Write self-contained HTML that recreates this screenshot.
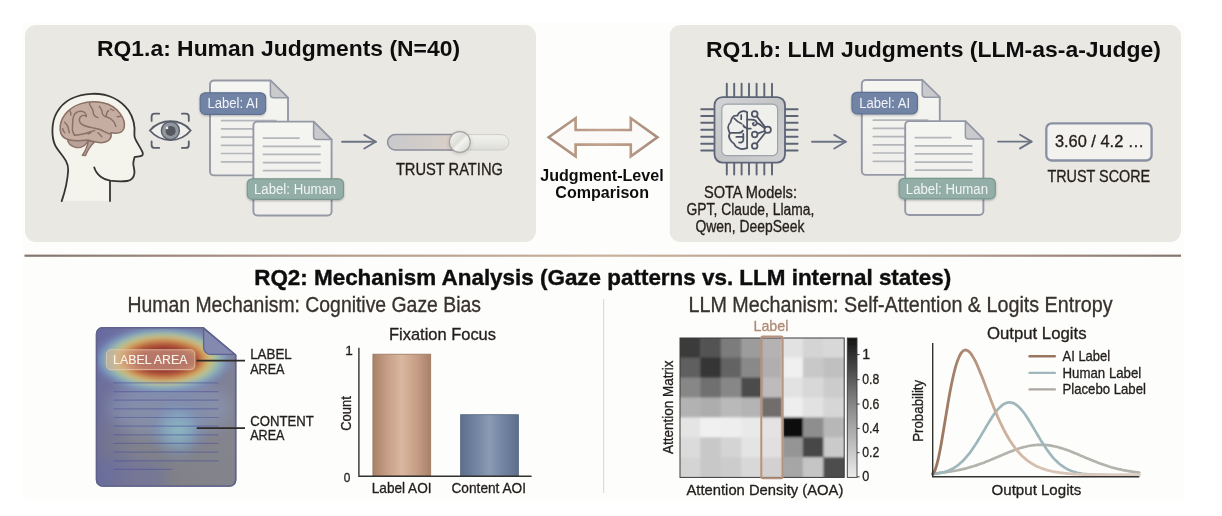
<!DOCTYPE html>
<html><head><meta charset="utf-8"><title>Figure</title>
<style>
html,body{margin:0;padding:0;background:#ffffff;}
body{width:1222px;height:516px;overflow:hidden;font-family:"Liberation Sans", sans-serif;}
svg{display:block;font-family:"Liberation Sans", sans-serif;}
</style></head><body>
<svg width="1222" height="516" viewBox="0 0 1222 516">
<defs>
<linearGradient id="gRule" x1="0" x2="1" y1="0" y2="0">
  <stop offset="0" stop-color="#85756f"/><stop offset="0.25" stop-color="#b49a8b"/>
  <stop offset="0.5" stop-color="#cbb09f"/><stop offset="0.8" stop-color="#b49a8b"/><stop offset="1" stop-color="#85756f"/>
</linearGradient>
<linearGradient id="gArrow" x1="0" x2="1" y1="0" y2="0">
  <stop offset="0" stop-color="#a98c7a"/><stop offset="0.5" stop-color="#c3a48f"/><stop offset="1" stop-color="#a98c7a"/>
</linearGradient>
<linearGradient id="gDoc" x1="0" x2="0" y1="0" y2="1">
  <stop offset="0" stop-color="#f5f5f1"/><stop offset="1" stop-color="#efeeea"/>
</linearGradient>
<linearGradient id="gTrackL" x1="0" x2="1" y1="0" y2="0">
  <stop offset="0" stop-color="#c9c9cb"/><stop offset="0.6" stop-color="#d3cdc9"/><stop offset="1" stop-color="#e0d0c8"/>
</linearGradient>
<linearGradient id="gTrackR" x1="0" x2="0" y1="0" y2="1">
  <stop offset="0" stop-color="#f1f1ed"/><stop offset="0.5" stop-color="#e8e8e4"/><stop offset="1" stop-color="#dcdcd8"/>
</linearGradient>
<linearGradient id="gKnob" x1="0" x2="1" y1="0" y2="1">
  <stop offset="0" stop-color="#fafaf8"/><stop offset="0.45" stop-color="#dcdcd9"/><stop offset="0.55" stop-color="#f3f3f0"/><stop offset="1" stop-color="#cfcfcc"/>
</linearGradient>
<linearGradient id="gChip" x1="0" x2="1" y1="0" y2="1">
  <stop offset="0" stop-color="#d4d5d6"/><stop offset="0.5" stop-color="#c2c4c6"/><stop offset="1" stop-color="#d0d1d2"/>
</linearGradient>
<linearGradient id="gBar1" x1="0" x2="1" y1="0" y2="0">
  <stop offset="0" stop-color="#a98168"/><stop offset="0.25" stop-color="#c79f86"/><stop offset="0.5" stop-color="#d9b7a0"/><stop offset="0.75" stop-color="#c79f86"/><stop offset="1" stop-color="#a98168"/>
</linearGradient>
<linearGradient id="gBar2" x1="0" x2="1" y1="0" y2="0">
  <stop offset="0" stop-color="#5d6f8c"/><stop offset="0.3" stop-color="#7587a3"/><stop offset="0.5" stop-color="#8b9bb4"/><stop offset="0.7" stop-color="#7587a3"/><stop offset="1" stop-color="#5d6f8c"/>
</linearGradient>
<linearGradient id="gCbar" x1="0" x2="0" y1="0" y2="1">
  <stop offset="0" stop-color="#141414"/><stop offset="0.5" stop-color="#8c8c8c"/><stop offset="1" stop-color="#ececec"/>
</linearGradient>
<linearGradient id="gAI" x1="0" x2="1" y1="0" y2="0">
  <stop offset="0" stop-color="#97725d"/><stop offset="0.15" stop-color="#ab8670"/><stop offset="0.32" stop-color="#cbae9a"/><stop offset="0.55" stop-color="#d9c4b5"/><stop offset="1" stop-color="#decfc3"/>
</linearGradient>
<radialGradient id="gHot" cx="0.5" cy="0.5" r="0.5">
  <stop offset="0" stop-color="#933430"/><stop offset="0.34" stop-color="#a03d34"/>
  <stop offset="0.52" stop-color="#c77b49"/><stop offset="0.63" stop-color="#d2ba74"/>
  <stop offset="0.73" stop-color="#a5c6a6" stop-opacity="0.92"/><stop offset="0.83" stop-color="#86afc8" stop-opacity="0.72"/>
  <stop offset="0.92" stop-color="#7a93c4" stop-opacity="0.38"/>
  <stop offset="1" stop-color="#6f80c0" stop-opacity="0"/>
</radialGradient>
<linearGradient id="gDocBase" x1="0" x2="0" y1="0" y2="1">
  <stop offset="0" stop-color="#7174a1"/><stop offset="0.4" stop-color="#7b7d9b"/><stop offset="0.75" stop-color="#83838b"/><stop offset="1" stop-color="#818187"/>
</linearGradient>
<linearGradient id="gDocRight" x1="0" x2="1" y1="0" y2="0">
  <stop offset="0" stop-color="#85858f" stop-opacity="0"/><stop offset="1" stop-color="#85858f" stop-opacity="0.7"/>
</linearGradient>
<linearGradient id="gDocLeft" x1="0" x2="1" y1="0" y2="0">
  <stop offset="0" stop-color="#5c5e9c" stop-opacity="0.5"/><stop offset="1" stop-color="#5a5ca2" stop-opacity="0"/>
</linearGradient>
<filter id="blur3" x="-30%" y="-60%" width="160%" height="220%"><feGaussianBlur stdDeviation="3"/></filter>
<filter id="blur4" x="-40%" y="-60%" width="180%" height="220%"><feGaussianBlur stdDeviation="7"/></filter>
<radialGradient id="gCool" cx="0.5" cy="0.5" r="0.5">
  <stop offset="0" stop-color="#8cc2c8" stop-opacity="0.8"/><stop offset="0.45" stop-color="#84b2cc" stop-opacity="0.58"/>
  <stop offset="1" stop-color="#6f86c0" stop-opacity="0"/>
</radialGradient>
<filter id="pageSoft" x="0" y="0" width="1222" height="516" filterUnits="userSpaceOnUse"><feGaussianBlur stdDeviation="0.45"/></filter>
<filter id="soft" x="-5%" y="-5%" width="110%" height="110%"><feGaussianBlur stdDeviation="1.1"/></filter>
<filter id="blur2" x="-20%" y="-20%" width="140%" height="140%"><feGaussianBlur stdDeviation="2.2"/></filter>
<filter id="badgeShadow" x="-10%" y="-20%" width="120%" height="150%">
  <feGaussianBlur in="SourceAlpha" stdDeviation="1.2"/><feOffset dy="1"/><feComponentTransfer><feFuncA type="linear" slope="0.28"/></feComponentTransfer>
  <feMerge><feMergeNode/><feMergeNode in="SourceGraphic"/></feMerge>
</filter>
<clipPath id="clipHeatDoc"><path d="M102.6,327.7 H203 L235.6,355 V480 a6,6 0 0 1 -6,6 H102.6 a6,6 0 0 1 -6,-6 V333.7 a6,6 0 0 1 6,-6 Z"/></clipPath>
</defs>
<g filter="url(#pageSoft)">
<rect x="0" y="0" width="1222" height="516" fill="#ffffff"/>
<rect x="22.5" y="22.5" width="1161.5" height="477" fill="#fdfdfc"/>
<rect x="25" y="25" width="511" height="217" rx="11" fill="#eae8e3"/>
<rect x="669.5" y="25" width="511.5" height="217" rx="11" fill="#eae8e3"/>
<rect x="24.5" y="254.6" width="1156.5" height="2.2" fill="url(#gRule)"/>
<text x="97.0" y="56.1" font-size="22" font-weight="bold" fill="#111111" text-anchor="start" textLength="363.0" lengthAdjust="spacingAndGlyphs" >RQ1.a: Human Judgments (N=40)</text>
<text x="706.0" y="56.6" font-size="22" font-weight="bold" fill="#111111" text-anchor="start" textLength="455.0" lengthAdjust="spacingAndGlyphs" >RQ1.b: LLM Judgments (LLM-as-a-Judge)</text>
<g id="head">
<path d="M61.7,201.1 C64.5,193 67.5,183 68.2,170 C68.5,160 60,154 55.5,146 C51,137 51.5,122 56.6,112.9 C63,101 76,94.3 92,93.8 C108,93.3 121,100 128.6,110.6 C133.5,118 135.2,127 134.4,134.9 C134.3,137 135,138.5 135.6,139.6 C137.5,143.5 141,148.5 142.6,152.4 C143.3,154.5 142.5,155.8 140.5,156.2 C138.5,156.6 136,156.6 134.6,157 C134,159.5 133.2,161.5 133.3,164 C133.5,167 134.8,170 134.4,173.3 C133.8,177.5 131.5,180.3 127,181 C121,181.8 115,181.3 110,180.7 L110,201.1 Z" fill="#f4f3ec" stroke="none"/>
<path d="M61.7,201.1 C64.5,193 67.5,183 68.2,170 C68.5,160 60,154 55.5,146 C51,137 51.5,122 56.6,112.9 C63,101 76,94.3 92,93.8 C108,93.3 121,100 128.6,110.6 C133.5,118 135.2,127 134.4,134.9 C134.3,137 135,138.5 135.6,139.6 C137.5,143.5 141,148.5 142.6,152.4 C143.3,154.5 142.5,155.8 140.5,156.2 C138.5,156.6 136,156.6 134.6,157 C134,159.5 133.2,161.5 133.3,164 C133.5,167 134.8,170 134.4,173.3 C133.8,177.5 131.5,180.3 127,181 C121,181.8 115,181.3 110,180.7 C104,179.6 96.5,175.5 94.2,167.3" fill="none" stroke="#363432" stroke-width="1.8" stroke-linecap="round" stroke-linejoin="round"/>
<path d="M110,180.7 L110,201.1" fill="none" stroke="#363432" stroke-width="1.8" stroke-linecap="round"/>
<!-- brain -->
<path d="M88.3,140.6 C87.6,146 85,151.5 82.3,155.4 L85.6,155.5 C87.4,150.5 90.5,146 94.4,142 Z" fill="#b59e95" stroke="#8a6f65" stroke-width="1.3" stroke-linejoin="round"/>
<path d="M67.2,138.6 C67.8,143 71,146.3 75.5,147.3 C80,148.2 84,146.6 86.4,143.4 C87.6,141.8 88.2,140.4 88.4,139.3 Z" fill="#b8a198" stroke="#8a6f65" stroke-width="1.3" stroke-linejoin="round"/>
<path d="M60.2,130.1 C59.8,124.5 61.5,119 65,114.5 C69,109 74.5,105.6 81,103.6 C87.5,101.6 96,101.3 103,102.8 C110.5,104.4 116.5,108.5 120.2,113.6 C123.5,118.2 125.2,123.4 124.2,127.6 C123.2,131.4 119.6,133.3 115.6,133.3 C113.6,133.3 112,133 110.9,132.8 C111.6,136 110.6,139.4 107.4,141.2 C103.6,143.3 98,142.8 93.4,141.6 C91.4,141.1 89.4,140.5 87.8,139.9 C82,140.8 75,141 69.6,140 C64.6,139 60.6,135.6 60.2,130.1 Z" fill="#c6ada1" stroke="#8a6f65" stroke-width="1.5" stroke-linejoin="round"/>
<g fill="none" stroke="#8a6f65" stroke-width="1.45" stroke-linecap="round" stroke-linejoin="round">
<path d="M74.6,135.2 C72.6,132.6 72.2,129 72.5,126 C72.8,122 72.6,119 73.6,116.2 C74.8,113 77.6,111.4 80.6,111.3 C84,111.2 86.6,113.4 86.3,116.4"/>
<path d="M86.3,116.4 C84.8,115.2 82.2,115.2 80.8,116.6 C78.8,118.6 78.8,121.6 81,123.6 C83.8,126 88,126.8 91.6,127.6 C95,128.4 98,128.8 100.6,129.8 C104.2,131.2 106.8,133.4 110.6,134"/>
<path d="M74.6,135.2 C78,135.2 81.4,134.6 84.4,133.8 C88.4,132.8 91.4,131.4 94.6,130.6"/>
<path d="M89.4,102.6 C89.2,105.6 91.8,107.4 92.6,109.6 C93.6,112 92.8,113.8 94.4,115.4 C95.4,116.4 96.8,117.2 98,117.6"/>
<path d="M99.3,106.4 C100.4,108 102,109.6 102,111.6 C102,113.4 102.4,114.6 103.8,115.6 C106,117 108.8,117.4 111,119 C113.4,120.8 115.2,123.4 115.8,126.4"/>
<path d="M110.6,109 C111.6,109.6 112.6,110.2 113.6,110.4"/>
<path d="M117.2,116.6 C118.6,116.8 120,116.4 121.2,115.8"/>
<path d="M106.4,116.6 C106,113.6 107.2,111.6 108.6,110.6"/>
<path d="M64.6,122.2 C66.4,123.8 67.8,125.6 68.2,127.8 C68.6,129.6 68.8,131.2 69.4,132.8"/>
<path d="M62.6,128.8 C63,130.4 63.8,131.8 64.8,132.8"/>
<path d="M88,134 C89,133.4 90,133 90.8,132.7"/>
<path d="M97.9,132.8 C99.4,134 100.8,135.4 101.8,136.8"/>
<path d="M69.8,110.6 C70.6,112 71,113.4 70.8,115"/>
</g>
</g>
<g id="eye" fill="none" stroke="#595e6b" stroke-width="1.8" stroke-linecap="round">
<path d="M151.6,120.9 V116.7 a3,3 0 0 1 3,-3 H159.2"/>
<path d="M181.9,113.7 H185.8 a3,3 0 0 1 3,3 V120.9"/>
<path d="M151.6,141.3 V144.9 a3,3 0 0 0 3,3 H159.2"/>
<path d="M181.9,147.9 H185.8 a3,3 0 0 0 3,-3 V141.3"/>
<path d="M149.9,130.5 C156,123.5 163,121.3 170.4,121.3 C178,121.3 185,123.5 190.6,130.5 C185,137.5 178,140.1 170.4,140.1 C163,140.1 156,137.5 149.9,130.5 Z" fill="#efefec" stroke-width="1.9"/>
<circle cx="170.4" cy="130.7" r="9" fill="#92969d" stroke-width="1.4"/>
<circle cx="170.6" cy="130.9" r="5" fill="#55585f" stroke="none"/>
<circle cx="167" cy="127.9" r="1.3" fill="#e8e8ea" stroke="none"/>
</g>
<g transform="translate(0,0)"><path d="M214,80.5 H270.4 L288,97.8 V171.4 a4,4 0 0 1 -4,4 H214 a4,4 0 0 1 -4,-4 V84.5 a4,4 0 0 1 4,-4 Z" fill="url(#gDoc)" stroke="#9599a6" stroke-width="1.9" stroke-linejoin="round"/>
<path d="M270.4,80.5 V94.8 a3,3 0 0 0 3,3 H288 Z" fill="#c9cacc" stroke="#9599a6" stroke-width="1.5" stroke-linejoin="round"/>
<g stroke="#b3b6bb" stroke-width="1.7" stroke-linecap="round">
<path d="M221.5,120.7 H276"/><path d="M221.5,128.8 H276"/><path d="M221.5,137.1 H276"/><path d="M221.5,145.3 H276"/><path d="M221.5,153.5 H276"/><path d="M221.5,161.8 H276"/>
</g><path d="M257.4,121.6 H313.6 L331.6,139.6 V211.5 a4,4 0 0 1 -4,4 H257.4 a4,4 0 0 1 -4,-4 V125.6 a4,4 0 0 1 4,-4 Z" fill="url(#gDoc)" stroke="#9599a6" stroke-width="1.9" stroke-linejoin="round"/>
<path d="M313.6,121.6 V136.6 a3,3 0 0 0 3,3 H331.6 Z" fill="#c9cacc" stroke="#9599a6" stroke-width="1.5" stroke-linejoin="round"/>
<g stroke="#b3b6bb" stroke-width="1.7" stroke-linecap="round">
<path d="M263.5,138.1 H299"/><path d="M263.5,146.3 H320"/><path d="M263.5,154.4 H320"/><path d="M263.5,162.6 H320"/><path d="M263.5,170.7 H320"/>
</g><rect x="200.2" y="92.8" width="65.4" height="21.5" rx="5" fill="#7284a5" stroke="#5f7093" stroke-width="1.2" filter="url(#badgeShadow)"/><text x="207.4" y="108.4" font-size="13.8" font-weight="normal" fill="#f1f3f7" text-anchor="start" textLength="51.0" lengthAdjust="spacingAndGlyphs" >Label: AI</text><rect x="247.3" y="178.8" width="96.2" height="20.6" rx="5" fill="#93aea6" stroke="#7a988f" stroke-width="1.2" filter="url(#badgeShadow)"/><text x="254.0" y="194.0" font-size="13.8" font-weight="normal" fill="#f1f5f3" text-anchor="start" textLength="82.2" lengthAdjust="spacingAndGlyphs" >Label: Human</text></g>
<g transform="translate(651.8,-0.5)"><path d="M214,80.5 H270.4 L288,97.8 V171.4 a4,4 0 0 1 -4,4 H214 a4,4 0 0 1 -4,-4 V84.5 a4,4 0 0 1 4,-4 Z" fill="url(#gDoc)" stroke="#9599a6" stroke-width="1.9" stroke-linejoin="round"/>
<path d="M270.4,80.5 V94.8 a3,3 0 0 0 3,3 H288 Z" fill="#c9cacc" stroke="#9599a6" stroke-width="1.5" stroke-linejoin="round"/>
<g stroke="#b3b6bb" stroke-width="1.7" stroke-linecap="round">
<path d="M221.5,120.7 H276"/><path d="M221.5,128.8 H276"/><path d="M221.5,137.1 H276"/><path d="M221.5,145.3 H276"/><path d="M221.5,153.5 H276"/><path d="M221.5,161.8 H276"/>
</g><path d="M257.4,121.6 H313.6 L331.6,139.6 V211.5 a4,4 0 0 1 -4,4 H257.4 a4,4 0 0 1 -4,-4 V125.6 a4,4 0 0 1 4,-4 Z" fill="url(#gDoc)" stroke="#9599a6" stroke-width="1.9" stroke-linejoin="round"/>
<path d="M313.6,121.6 V136.6 a3,3 0 0 0 3,3 H331.6 Z" fill="#c9cacc" stroke="#9599a6" stroke-width="1.5" stroke-linejoin="round"/>
<g stroke="#b3b6bb" stroke-width="1.7" stroke-linecap="round">
<path d="M263.5,138.1 H299"/><path d="M263.5,146.3 H320"/><path d="M263.5,154.4 H320"/><path d="M263.5,162.6 H320"/><path d="M263.5,170.7 H320"/>
</g><rect x="200.2" y="92.8" width="65.4" height="21.5" rx="5" fill="#7284a5" stroke="#5f7093" stroke-width="1.2" filter="url(#badgeShadow)"/><text x="207.4" y="108.4" font-size="13.8" font-weight="normal" fill="#f1f3f7" text-anchor="start" textLength="51.0" lengthAdjust="spacingAndGlyphs" >Label: AI</text><rect x="247.3" y="178.8" width="96.2" height="20.6" rx="5" fill="#93aea6" stroke="#7a988f" stroke-width="1.2" filter="url(#badgeShadow)"/><text x="254.0" y="194.0" font-size="13.8" font-weight="normal" fill="#f1f5f3" text-anchor="start" textLength="82.2" lengthAdjust="spacingAndGlyphs" >Label: Human</text></g>
<g fill="none" stroke="#6c7385" stroke-width="1.9" stroke-linecap="round" stroke-linejoin="round"><path d="M342,141.7 H375.8"/><path d="M364.3,134.89999999999998 L375.8,141.7 L364.3,148.5"/></g>
<g fill="none" stroke="#6c7385" stroke-width="1.9" stroke-linecap="round" stroke-linejoin="round"><path d="M812,141.7 H845.8"/><path d="M834.3,134.89999999999998 L845.8,141.7 L834.3,148.5"/></g>
<g fill="none" stroke="#6c7385" stroke-width="1.9" stroke-linecap="round" stroke-linejoin="round"><path d="M998,141.6 H1031.6"/><path d="M1020.0999999999999,134.79999999999998 L1031.6,141.6 L1020.0999999999999,148.4"/></g>
<g id="slider">
<rect x="387.6" y="134.6" width="121.2" height="15.4" rx="7.7" fill="url(#gTrackR)" stroke="#cbcbc7" stroke-width="0.9"/>
<path d="M459.5,134.6 H395.3 a7.7,7.7 0 0 0 0,15.4 H459.5 Z" fill="url(#gTrackL)" stroke="#8c8f9d" stroke-width="1.5"/>
<circle cx="459.8" cy="143" r="10.8" fill="#000" opacity="0.16" filter="url(#blur2)"/>
<circle cx="459.8" cy="142" r="10.4" fill="url(#gKnob)" stroke="#a3a39f" stroke-width="1.1"/>
</g>
<text x="395.9" y="174.6" font-size="16.2" font-weight="normal" fill="#231f1c" stroke="#231f1c" stroke-width="0.32" text-anchor="start" textLength="107.0" lengthAdjust="spacingAndGlyphs" >TRUST RATING</text>
<rect x="536" y="22" width="133.5" height="225" fill="#fdfdfc"/>
<path d="M548.6,137.3 L575.6,118.2 V130 H630.8 V118.2 L657.4,137.3 L630.8,156.4 V144.6 H575.6 V156.4 Z" fill="#fbfaf8" stroke="url(#gArrow)" stroke-width="2.6" stroke-linejoin="miter"/>
<text x="540.2" y="181.2" font-size="16.2" font-weight="bold" fill="#111111" text-anchor="start" textLength="123.5" lengthAdjust="spacingAndGlyphs" >Judgment-Level</text>
<text x="555.3" y="197.8" font-size="16.2" font-weight="bold" fill="#111111" text-anchor="start" textLength="93.7" lengthAdjust="spacingAndGlyphs" >Comparison</text>
<g id="chip"><g stroke="#5d6577" stroke-width="1.9" stroke-linecap="round"><path d="M726.8,83.8 V97"/><path d="M726.8,162.6 V174.6"/><path d="M734.2,83.8 V97"/><path d="M734.2,162.6 V174.6"/><path d="M741.6,83.8 V97"/><path d="M741.6,162.6 V174.6"/><path d="M749.0,83.8 V97"/><path d="M749.0,162.6 V174.6"/><path d="M756.6,83.8 V97"/><path d="M756.6,162.6 V174.6"/><path d="M764.3,83.8 V97"/><path d="M764.3,162.6 V174.6"/><path d="M772.0,83.8 V97"/><path d="M772.0,162.6 V174.6"/><path d="M701.2,109.2 H714.5"/><path d="M785,109.2 H797.6"/><path d="M701.2,116.0 H714.5"/><path d="M785,116.0 H797.6"/><path d="M701.2,122.8 H714.5"/><path d="M785,122.8 H797.6"/><path d="M701.2,129.8 H714.5"/><path d="M785,129.8 H797.6"/><path d="M701.2,136.8 H714.5"/><path d="M785,136.8 H797.6"/><path d="M701.2,143.8 H714.5"/><path d="M785,143.8 H797.6"/><path d="M701.2,150.5 H714.5"/><path d="M785,150.5 H797.6"/></g><rect x="714.5" y="97.1" width="70.5" height="65.5" rx="8" fill="url(#gChip)" stroke="#5d6577" stroke-width="1.8"/><rect x="721.8" y="104.2" width="55.8" height="51.4" rx="5" fill="#efefeb" stroke="#9ea3ab" stroke-width="1.2"/><g fill="none" stroke="#4f5666" stroke-width="1.75" stroke-linecap="round" stroke-linejoin="round">
<path d="M747.1,112.3 C745,111 742.5,111 740.6,111.9 C738.6,112.9 737.8,114.4 737.4,115.6 C735.4,115.4 733.2,116 732.4,117.4 C731.2,119 731,121 730.4,122.6 C728.8,123.8 728,125.6 728.1,127.5 C728.2,129.6 729.2,131.2 729.8,133.5 C728.8,135.2 728.8,137.4 729.8,138.9 C730.8,141 732.2,142.8 734.1,143.8 C735,146.2 737,147.8 739,148.2 C741,149.2 743.4,149.2 745,148.7 L747.1,148.1"/>
<path d="M747.1,112.3 V148.1"/>
<path d="M734.1,118.3 C736,120.6 738.6,122.6 741.7,123.7"/>
<path d="M741.2,115 V119.2"/>
<path d="M730.8,132.9 H738 C740.4,132.9 742.2,132.2 742.8,130.6"/>
<path d="M736.3,136.9 H743.3"/>
<path d="M743.3,133.8 V140.2 C743.3,142 741,142.8 739,142.5"/>
<path d="M747.1,127.8 C745,127.8 743.5,126.8 743.3,125.2"/>
<path d="M756.7,116.1 L765.3,127.2"/>
<path d="M747.1,119.6 H751.6 C754.6,119.6 756.5,121 756.7,122.9 C756.9,124.9 755,125.9 753.6,125.2 C752.4,124.6 752.6,123 753.8,122.8"/>
<path d="M756.7,122.9 C759,123.6 762.6,126.4 764.8,128.3"/>
<path d="M747.1,128.6 H750.8"/>
<path d="M757.4,133.6 L764.7,131"/>
<path d="M756.5,143.7 L765.7,132.3"/>
<circle cx="754.7" cy="113.9" r="2.9" fill="#efefeb"/>
<circle cx="754.7" cy="134.5" r="2.8" fill="#efefeb"/>
<circle cx="754.7" cy="145.9" r="2.8" fill="#efefeb"/>
<circle cx="767.7" cy="129.7" r="3.2" fill="#efefeb"/>
</g></g>
<text x="703.9" y="198.0" font-size="15.8" font-weight="normal" fill="#231f1c" stroke="#231f1c" stroke-width="0.32" text-anchor="start" textLength="93.1" lengthAdjust="spacingAndGlyphs" >SOTA Models:</text>
<text x="686.6" y="214.8" font-size="15.8" font-weight="normal" fill="#231f1c" stroke="#231f1c" stroke-width="0.32" text-anchor="start" textLength="127.7" lengthAdjust="spacingAndGlyphs" >GPT, Claude, Llama,</text>
<text x="695.5" y="231.9" font-size="15.8" font-weight="normal" fill="#231f1c" stroke="#231f1c" stroke-width="0.32" text-anchor="start" textLength="108.9" lengthAdjust="spacingAndGlyphs" >Qwen, DeepSeek</text>
<rect x="1046.3" y="123.3" width="105.3" height="37.2" rx="5.5" fill="#f3f2ee" stroke="#8b91a4" stroke-width="2.3"/>
<text x="1054.9" y="147.0" font-size="16.2" font-weight="normal" fill="#231f1c" stroke="#231f1c" stroke-width="0.32" text-anchor="start" textLength="89.3" lengthAdjust="spacingAndGlyphs" >3.60 / 4.2 …</text>
<text x="1047.4" y="181.9" font-size="16.2" font-weight="normal" fill="#231f1c" stroke="#231f1c" stroke-width="0.32" text-anchor="start" textLength="102.8" lengthAdjust="spacingAndGlyphs" >TRUST SCORE</text>
<text x="254.2" y="284.5" font-size="22" font-weight="bold" fill="#111111" text-anchor="start" textLength="697.0" lengthAdjust="spacingAndGlyphs" stroke="#111111" stroke-width="0.4">RQ2: Mechanism Analysis (Gaze patterns vs. LLM internal states)</text>
<text x="127.5" y="312.0" font-size="21.4" font-weight="normal" fill="#38332e" stroke="#38332e" stroke-width="0.32" text-anchor="start" textLength="353.5" lengthAdjust="spacingAndGlyphs" >Human Mechanism: Cognitive Gaze Bias</text>
<text x="688.5" y="312.2" font-size="21.4" font-weight="normal" fill="#38332e" stroke="#38332e" stroke-width="0.32" text-anchor="start" textLength="424.0" lengthAdjust="spacingAndGlyphs" >LLM Mechanism: Self-Attention &amp; Logits Entropy</text>
<rect x="603" y="299" width="1.2" height="194" fill="#dcdcda"/>
<g id="heatdoc"><path d="M102.6,327.7 H203 L235.6,355 V480 a6,6 0 0 1 -6,6 H102.6 a6,6 0 0 1 -6,-6 V333.7 a6,6 0 0 1 6,-6 Z" fill="#7679a0" stroke="#62648c" stroke-width="1.6" stroke-linejoin="round"/><g clip-path="url(#clipHeatDoc)"><rect x="96" y="327" width="143" height="160" fill="url(#gDocBase)"/><rect x="96" y="327" width="40" height="160" fill="url(#gDocLeft)"/><rect x="186" y="327" width="52" height="160" fill="url(#gDocRight)"/><ellipse cx="125" cy="478" rx="42" ry="22" fill="#6268aa" opacity="0.4" filter="url(#blur4)"/><ellipse cx="170" cy="408" rx="62" ry="30" fill="#90a2c4" opacity="0.42" filter="url(#blur4)"/><ellipse cx="163" cy="359.5" rx="73" ry="35" fill="url(#gHot)" filter="url(#blur2)"/><ellipse cx="165" cy="360" rx="32" ry="9.5" fill="#8c2f2d" opacity="0.95" filter="url(#blur3)"/><ellipse cx="178" cy="430" rx="30" ry="32" fill="url(#gCool)" filter="url(#blur2)"/><g stroke="#4e5398" stroke-width="1.2" stroke-linecap="round" opacity="0.52"><path d="M114,382.9 H218"/><path d="M114,391.6 H218"/><path d="M114,400.2 H218"/><path d="M114,408.8 H218"/><path d="M114,417.5 H218"/><path d="M114,426.1 H218"/><path d="M114,434.8 H218"/><path d="M114,443.4 H218"/><path d="M114,452.1 H218"/><path d="M114,460.8 H218"/><path d="M114,469.4 H172"/></g><path d="M203.6,328.2 V347.4 a7,7 0 0 0 7,7 H235.2 Z" fill="#8489b0" stroke="#5e618e" stroke-width="1.3" stroke-linejoin="round"/></g><path d="M102.6,327.7 H203 L235.6,355 V480 a6,6 0 0 1 -6,6 H102.6 a6,6 0 0 1 -6,-6 V333.7 a6,6 0 0 1 6,-6 Z" fill="none" stroke="#62648c" stroke-width="1.6" stroke-linejoin="round"/><rect x="106.5" y="349.8" width="88.4" height="19.8" rx="4.5" fill="#d9b295" fill-opacity="0.55" stroke="#e6c9ae" stroke-opacity="0.75" stroke-width="1.1"/><text x="113.1" y="363.9" font-size="13" font-weight="normal" fill="#f8f1e8" stroke="#f8f1e8" stroke-width="0.15" text-anchor="start" textLength="74.4" lengthAdjust="spacingAndGlyphs" >LABEL AREA</text><path d="M196.6,360.6 H245 M196.8,428.1 H245" stroke="#2e2b28" stroke-width="1.6" fill="none"/></g>
<text x="250.2" y="358.8" font-size="14.2" font-weight="normal" fill="#231f1c" stroke="#231f1c" stroke-width="0.32" text-anchor="start" textLength="41.6" lengthAdjust="spacingAndGlyphs" >LABEL</text>
<text x="250.2" y="373.6" font-size="14.2" font-weight="normal" fill="#231f1c" stroke="#231f1c" stroke-width="0.32" text-anchor="start" textLength="34.3" lengthAdjust="spacingAndGlyphs" >AREA</text>
<text x="250.2" y="425.6" font-size="14.2" font-weight="normal" fill="#231f1c" stroke="#231f1c" stroke-width="0.32" text-anchor="start" textLength="63.5" lengthAdjust="spacingAndGlyphs" >CONTENT</text>
<text x="250.2" y="440.4" font-size="14.2" font-weight="normal" fill="#231f1c" stroke="#231f1c" stroke-width="0.32" text-anchor="start" textLength="34.3" lengthAdjust="spacingAndGlyphs" >AREA</text>
<text x="389.0" y="339.5" font-size="16.2" font-weight="normal" fill="#231f1c" stroke="#231f1c" stroke-width="0.32" text-anchor="start" textLength="107.0" lengthAdjust="spacingAndGlyphs" >Fixation Focus</text>
<rect x="372.9" y="354.2" width="57.8" height="122" fill="url(#gBar1)" stroke="#9a755e" stroke-width="0.8"/>
<rect x="460.6" y="414.7" width="57.8" height="61.6" fill="url(#gBar2)" stroke="#55667f" stroke-width="0.8"/>
<path d="M358.9,347.8 V476.3 H531.6" fill="none" stroke="#33302d" stroke-width="1.4"/>
<text x="345.2" y="354.7" font-size="13.6" font-weight="normal" fill="#231f1c" stroke="#231f1c" stroke-width="0.32" text-anchor="start" >1</text>
<text x="343.8" y="481.5" font-size="13.6" font-weight="normal" fill="#231f1c" stroke="#231f1c" stroke-width="0.32" text-anchor="start" textLength="6.6" lengthAdjust="spacingAndGlyphs" >0</text>
<text transform="translate(345.6,413.5) rotate(-90)" x="-17.3" y="5.2" font-size="14.4" fill="#231f1c" stroke="#231f1c" stroke-width="0.32" textLength="34.6" lengthAdjust="spacingAndGlyphs">Count</text>
<text x="371.8" y="493.3" font-size="14.4" font-weight="normal" fill="#231f1c" stroke="#231f1c" stroke-width="0.32" text-anchor="start" textLength="59.7" lengthAdjust="spacingAndGlyphs" >Label AOI</text>
<text x="451.5" y="493.3" font-size="14.4" font-weight="normal" fill="#231f1c" stroke="#231f1c" stroke-width="0.32" text-anchor="start" textLength="74.5" lengthAdjust="spacingAndGlyphs" >Content AOI</text>
<clipPath id="clipM"><rect x="680.0" y="338.0" width="164.2" height="139.4"/></clipPath><g clip-path="url(#clipM)"><g filter="url(#soft)"><rect x="675.70" y="333.70" width="25.12" height="24.51" fill="rgb(58,58,58)"/><rect x="700.23" y="333.70" width="21.12" height="24.51" fill="rgb(82,82,82)"/><rect x="720.75" y="333.70" width="21.12" height="24.51" fill="rgb(123,123,123)"/><rect x="741.28" y="333.70" width="21.12" height="24.51" fill="rgb(156,156,156)"/><rect x="761.80" y="333.70" width="21.12" height="24.51" fill="rgb(180,180,180)"/><rect x="782.33" y="333.70" width="21.12" height="24.51" fill="rgb(226,226,226)"/><rect x="802.85" y="333.70" width="21.12" height="24.51" fill="rgb(212,212,212)"/><rect x="823.38" y="333.70" width="25.12" height="24.51" fill="rgb(216,216,216)"/><rect x="675.70" y="357.61" width="25.12" height="20.51" fill="rgb(94,94,94)"/><rect x="700.23" y="357.61" width="21.12" height="20.51" fill="rgb(53,53,53)"/><rect x="720.75" y="357.61" width="21.12" height="20.51" fill="rgb(99,99,99)"/><rect x="741.28" y="357.61" width="21.12" height="20.51" fill="rgb(137,137,137)"/><rect x="761.80" y="357.61" width="21.12" height="20.51" fill="rgb(176,176,176)"/><rect x="782.33" y="357.61" width="21.12" height="20.51" fill="rgb(240,240,240)"/><rect x="802.85" y="357.61" width="21.12" height="20.51" fill="rgb(200,200,200)"/><rect x="823.38" y="357.61" width="25.12" height="20.51" fill="rgb(192,192,192)"/><rect x="675.70" y="377.53" width="25.12" height="20.51" fill="rgb(135,135,135)"/><rect x="700.23" y="377.53" width="21.12" height="20.51" fill="rgb(111,111,111)"/><rect x="720.75" y="377.53" width="21.12" height="20.51" fill="rgb(135,135,135)"/><rect x="741.28" y="377.53" width="21.12" height="20.51" fill="rgb(75,75,75)"/><rect x="761.80" y="377.53" width="21.12" height="20.51" fill="rgb(190,190,190)"/><rect x="782.33" y="377.53" width="21.12" height="20.51" fill="rgb(226,226,226)"/><rect x="802.85" y="377.53" width="21.12" height="20.51" fill="rgb(216,216,216)"/><rect x="823.38" y="377.53" width="25.12" height="20.51" fill="rgb(204,204,204)"/><rect x="675.70" y="397.44" width="25.12" height="20.51" fill="rgb(178,178,178)"/><rect x="700.23" y="397.44" width="21.12" height="20.51" fill="rgb(173,173,173)"/><rect x="720.75" y="397.44" width="21.12" height="20.51" fill="rgb(185,185,185)"/><rect x="741.28" y="397.44" width="21.12" height="20.51" fill="rgb(180,180,180)"/><rect x="761.80" y="397.44" width="21.12" height="20.51" fill="rgb(106,106,106)"/><rect x="782.33" y="397.44" width="21.12" height="20.51" fill="rgb(238,238,238)"/><rect x="802.85" y="397.44" width="21.12" height="20.51" fill="rgb(226,226,226)"/><rect x="823.38" y="397.44" width="25.12" height="20.51" fill="rgb(214,214,214)"/><rect x="675.70" y="417.36" width="25.12" height="20.51" fill="rgb(228,228,228)"/><rect x="700.23" y="417.36" width="21.12" height="20.51" fill="rgb(240,240,240)"/><rect x="720.75" y="417.36" width="21.12" height="20.51" fill="rgb(238,238,238)"/><rect x="741.28" y="417.36" width="21.12" height="20.51" fill="rgb(233,233,233)"/><rect x="761.80" y="417.36" width="21.12" height="20.51" fill="rgb(231,231,231)"/><rect x="782.33" y="417.36" width="21.12" height="20.51" fill="rgb(17,17,17)"/><rect x="802.85" y="417.36" width="21.12" height="20.51" fill="rgb(142,142,142)"/><rect x="823.38" y="417.36" width="25.12" height="20.51" fill="rgb(183,183,183)"/><rect x="675.70" y="437.27" width="25.12" height="20.51" fill="rgb(219,219,219)"/><rect x="700.23" y="437.27" width="21.12" height="20.51" fill="rgb(200,200,200)"/><rect x="720.75" y="437.27" width="21.12" height="20.51" fill="rgb(212,212,212)"/><rect x="741.28" y="437.27" width="21.12" height="20.51" fill="rgb(228,228,228)"/><rect x="761.80" y="437.27" width="21.12" height="20.51" fill="rgb(228,228,228)"/><rect x="782.33" y="437.27" width="21.12" height="20.51" fill="rgb(149,149,149)"/><rect x="802.85" y="437.27" width="21.12" height="20.51" fill="rgb(70,70,70)"/><rect x="823.38" y="437.27" width="25.12" height="20.51" fill="rgb(202,202,202)"/><rect x="675.70" y="457.19" width="25.12" height="24.51" fill="rgb(212,212,212)"/><rect x="700.23" y="457.19" width="21.12" height="24.51" fill="rgb(200,200,200)"/><rect x="720.75" y="457.19" width="21.12" height="24.51" fill="rgb(204,204,204)"/><rect x="741.28" y="457.19" width="21.12" height="24.51" fill="rgb(216,216,216)"/><rect x="761.80" y="457.19" width="21.12" height="24.51" fill="rgb(212,212,212)"/><rect x="782.33" y="457.19" width="21.12" height="24.51" fill="rgb(166,166,166)"/><rect x="802.85" y="457.19" width="21.12" height="24.51" fill="rgb(197,197,197)"/><rect x="823.38" y="457.19" width="25.12" height="24.51" fill="rgb(77,77,77)"/></g></g><rect x="680.0" y="338.0" width="164.2" height="139.4" fill="none" stroke="#3a3a3a" stroke-width="1"/><rect x="761.3" y="336.6" width="21.3" height="141.6" rx="1.5" fill="#c9a48e" fill-opacity="0.06" stroke="#b8927d" stroke-width="2"/><rect x="847.3" y="338" width="9.7" height="139.4" fill="url(#gCbar)" stroke="#3a3a3a" stroke-width="0.9"/>
<text x="753.5" y="330.5" font-size="14.4" font-weight="normal" fill="#b08c78" stroke="#b08c78" stroke-width="0.32" text-anchor="start" textLength="34.9" lengthAdjust="spacingAndGlyphs" >Label</text>
<g stroke="#3a3a3a" stroke-width="1"><path d="M857,354.6 H859.6"/><path d="M857,379.7 H859.6"/><path d="M857,404.1 H859.6"/><path d="M857,428.4 H859.6"/><path d="M857,452.7 H859.6"/><path d="M857,476.8 H859.6"/></g>
<text x="862.2" y="359.0" font-size="14.2" font-weight="normal" fill="#231f1c" stroke="#231f1c" stroke-width="0.32" text-anchor="start" >1</text>
<text x="862.2" y="384.1" font-size="14.2" font-weight="normal" fill="#231f1c" stroke="#231f1c" stroke-width="0.32" text-anchor="start" textLength="17.0" lengthAdjust="spacingAndGlyphs" >0.8</text>
<text x="862.2" y="408.5" font-size="14.2" font-weight="normal" fill="#231f1c" stroke="#231f1c" stroke-width="0.32" text-anchor="start" textLength="17.0" lengthAdjust="spacingAndGlyphs" >0.6</text>
<text x="862.2" y="432.8" font-size="14.2" font-weight="normal" fill="#231f1c" stroke="#231f1c" stroke-width="0.32" text-anchor="start" textLength="17.0" lengthAdjust="spacingAndGlyphs" >0.4</text>
<text x="862.2" y="457.1" font-size="14.2" font-weight="normal" fill="#231f1c" stroke="#231f1c" stroke-width="0.32" text-anchor="start" textLength="17.0" lengthAdjust="spacingAndGlyphs" >0.2</text>
<text x="862.2" y="481.2" font-size="14.2" font-weight="normal" fill="#231f1c" stroke="#231f1c" stroke-width="0.32" text-anchor="start" textLength="7.0" lengthAdjust="spacingAndGlyphs" >0</text>
<text transform="translate(667.6,407.2) rotate(-90)" x="-46.9" y="5.3" font-size="14.6" fill="#231f1c" stroke="#231f1c" stroke-width="0.32" textLength="93.7" lengthAdjust="spacingAndGlyphs">Attention Matrix</text>
<text x="686.5" y="495.2" font-size="15.2" font-weight="normal" fill="#231f1c" stroke="#231f1c" stroke-width="0.32" text-anchor="start" textLength="156.9" lengthAdjust="spacingAndGlyphs" >Attention Density (AOA)</text>
<text x="986.9" y="339.2" font-size="16.2" font-weight="normal" fill="#231f1c" stroke="#231f1c" stroke-width="0.32" text-anchor="start" textLength="99.7" lengthAdjust="spacingAndGlyphs" >Output Logits</text>
<path d="M932.7,473.3 L934.2,473.2 L935.7,473.1 L937.1,473.0 L938.6,472.9 L940.1,472.7 L941.6,472.6 L943.0,472.4 L944.5,472.3 L946.0,472.1 L947.5,471.9 L948.9,471.7 L950.4,471.5 L951.9,471.3 L953.4,471.0 L954.8,470.8 L956.3,470.5 L957.8,470.2 L959.3,469.9 L960.7,469.6 L962.2,469.3 L963.7,468.9 L965.2,468.6 L966.6,468.2 L968.1,467.8 L969.6,467.4 L971.1,466.9 L972.5,466.5 L974.0,466.0 L975.5,465.6 L977.0,465.1 L978.4,464.6 L979.9,464.0 L981.4,463.5 L982.9,463.0 L984.4,462.4 L985.8,461.8 L987.3,461.2 L988.8,460.7 L990.3,460.1 L991.7,459.4 L993.2,458.8 L994.7,458.2 L996.2,457.6 L997.6,456.9 L999.1,456.3 L1000.6,455.7 L1002.1,455.1 L1003.5,454.4 L1005.0,453.8 L1006.5,453.2 L1008.0,452.6 L1009.4,452.0 L1010.9,451.4 L1012.4,450.9 L1013.9,450.3 L1015.3,449.8 L1016.8,449.3 L1018.3,448.8 L1019.8,448.3 L1021.2,447.8 L1022.7,447.4 L1024.2,447.0 L1025.7,446.7 L1027.1,446.3 L1028.6,446.0 L1030.1,445.7 L1031.6,445.5 L1033.0,445.3 L1034.5,445.1 L1036.0,445.0 L1037.5,444.9 L1039.0,444.8 L1040.4,444.8 L1041.9,444.8 L1043.4,444.9 L1044.9,444.9 L1046.3,445.1 L1047.8,445.2 L1049.3,445.4 L1050.8,445.6 L1052.2,445.9 L1053.7,446.2 L1055.2,446.5 L1056.7,446.8 L1058.1,447.2 L1059.6,447.6 L1061.1,448.1 L1062.6,448.5 L1064.0,449.0 L1065.5,449.5 L1067.0,450.0 L1068.5,450.6 L1069.9,451.1 L1071.4,451.7 L1072.9,452.3 L1074.4,452.9 L1075.8,453.5 L1077.3,454.1 L1078.8,454.7 L1080.3,455.4 L1081.7,456.0 L1083.2,456.6 L1084.7,457.3 L1086.2,457.9 L1087.7,458.5 L1089.1,459.1 L1090.6,459.7 L1092.1,460.4 L1093.6,460.9 L1095.0,461.5 L1096.5,462.1 L1098.0,462.7 L1099.5,463.2 L1100.9,463.8 L1102.4,464.3 L1103.9,464.8 L1105.4,465.3 L1106.8,465.8 L1108.3,466.3 L1109.8,466.7 L1111.3,467.2 L1112.7,467.6 L1114.2,468.0 L1115.7,468.4 L1117.2,468.7 L1118.6,469.1 L1120.1,469.4 L1121.6,469.7 L1123.1,470.1 L1124.5,470.3 L1126.0,470.6 L1127.5,470.9 L1129.0,471.1 L1130.4,471.4 L1131.9,471.6 L1133.4,471.8 L1134.9,472.0 L1136.3,472.2 L1137.8,472.3 L1139.3,472.5" fill="none" stroke="#b3b2ab" stroke-width="2.7" stroke-linecap="round" stroke-linejoin="round"/>
<path d="M932.7,474.1 L934.2,474.0 L935.7,473.8 L937.1,473.6 L938.6,473.3 L940.1,473.1 L941.6,472.7 L943.0,472.4 L944.5,472.0 L946.0,471.5 L947.5,471.0 L948.9,470.4 L950.4,469.7 L951.9,469.0 L953.4,468.2 L954.8,467.3 L956.3,466.3 L957.8,465.3 L959.3,464.1 L960.7,462.8 L962.2,461.5 L963.7,460.0 L965.2,458.4 L966.6,456.7 L968.1,454.9 L969.6,453.1 L971.1,451.1 L972.5,449.0 L974.0,446.8 L975.5,444.5 L977.0,442.2 L978.4,439.8 L979.9,437.4 L981.4,434.9 L982.9,432.4 L984.4,429.9 L985.8,427.3 L987.3,424.9 L988.8,422.4 L990.3,420.0 L991.7,417.7 L993.2,415.5 L994.7,413.4 L996.2,411.5 L997.6,409.7 L999.1,408.1 L1000.6,406.6 L1002.1,405.4 L1003.5,404.3 L1005.0,403.5 L1006.5,402.9 L1008.0,402.5 L1009.4,402.4 L1010.9,402.5 L1012.4,402.9 L1013.9,403.4 L1015.3,404.2 L1016.8,405.3 L1018.3,406.5 L1019.8,407.9 L1021.2,409.5 L1022.7,411.3 L1024.2,413.3 L1025.7,415.3 L1027.1,417.5 L1028.6,419.8 L1030.1,422.2 L1031.6,424.7 L1033.0,427.1 L1034.5,429.6 L1036.0,432.2 L1037.5,434.7 L1039.0,437.2 L1040.4,439.6 L1041.9,442.0 L1043.4,444.3 L1044.9,446.6 L1046.3,448.8 L1047.8,450.9 L1049.3,452.9 L1050.8,454.8 L1052.2,456.6 L1053.7,458.3 L1055.2,459.9 L1056.7,461.3 L1058.1,462.7 L1059.6,464.0 L1061.1,465.2 L1062.6,466.2 L1064.0,467.2 L1065.5,468.1 L1067.0,468.9 L1068.5,469.7 L1069.9,470.3 L1071.4,470.9 L1072.9,471.5 L1074.4,471.9 L1075.8,472.3 L1077.3,472.7 L1078.8,473.0 L1080.3,473.3 L1081.7,473.6 L1083.2,473.8 L1084.7,474.0 L1086.2,474.1 L1087.7,474.3 L1089.1,474.4 L1090.6,474.5 L1092.1,474.6 L1093.6,474.6 L1095.0,474.7 L1096.5,474.8 L1098.0,474.8 L1099.5,474.8 L1100.9,474.9 L1102.4,474.9 L1103.9,474.9 L1105.4,474.9 L1106.8,474.9 L1108.3,475.0 L1109.8,475.0 L1111.3,475.0 L1112.7,475.0 L1114.2,475.0 L1115.7,475.0 L1117.2,475.0 L1118.6,475.0 L1120.1,475.0 L1121.6,475.0 L1123.1,475.0 L1124.5,475.0 L1126.0,475.0 L1127.5,475.0 L1129.0,475.0 L1130.4,475.0 L1131.9,475.0 L1133.4,475.0 L1134.9,475.0 L1136.3,475.0 L1137.8,475.0 L1139.3,475.0" fill="none" stroke="#9fb7ba" stroke-width="2.7" stroke-linecap="round" stroke-linejoin="round"/>
<path d="M932.7,474.1 L934.2,472.0 L935.7,468.4 L937.1,463.5 L938.6,457.3 L940.1,450.0 L941.6,441.8 L943.0,433.2 L944.5,424.2 L946.0,415.2 L947.5,406.3 L948.9,397.8 L950.4,389.7 L951.9,382.3 L953.4,375.5 L954.8,369.6 L956.3,364.4 L957.8,360.0 L959.3,356.5 L960.7,353.7 L962.2,351.8 L963.7,350.5 L965.2,350.0 L966.6,350.2 L968.1,350.9 L969.6,352.1 L971.1,353.9 L972.5,356.1 L974.0,358.6 L975.5,361.5 L977.0,364.6 L978.4,368.0 L979.9,371.6 L981.4,375.3 L982.9,379.1 L984.4,382.9 L985.8,386.8 L987.3,390.7 L988.8,394.6 L990.3,398.5 L991.7,402.3 L993.2,406.0 L994.7,409.6 L996.2,413.2 L997.6,416.6 L999.1,419.9 L1000.6,423.1 L1002.1,426.2 L1003.5,429.2 L1005.0,432.0 L1006.5,434.7 L1008.0,437.3 L1009.4,439.7 L1010.9,442.0 L1012.4,444.2 L1013.9,446.3 L1015.3,448.3 L1016.8,450.1 L1018.3,451.9 L1019.8,453.5 L1021.2,455.0 L1022.7,456.5 L1024.2,457.8 L1025.7,459.1 L1027.1,460.3 L1028.6,461.4 L1030.1,462.4 L1031.6,463.4 L1033.0,464.3 L1034.5,465.1 L1036.0,465.9 L1037.5,466.6 L1039.0,467.2 L1040.4,467.8 L1041.9,468.4 L1043.4,468.9 L1044.9,469.4 L1046.3,469.9 L1047.8,470.3 L1049.3,470.7 L1050.8,471.0 L1052.2,471.4 L1053.7,471.7 L1055.2,472.0 L1056.7,472.2 L1058.1,472.4 L1059.6,472.7 L1061.1,472.9 L1062.6,473.0 L1064.0,473.2 L1065.5,473.4 L1067.0,473.5 L1068.5,473.6 L1069.9,473.8 L1071.4,473.9 L1072.9,474.0 L1074.4,474.1 L1075.8,474.1 L1077.3,474.2 L1078.8,474.3 L1080.3,474.3 L1081.7,474.4 L1083.2,474.5 L1084.7,474.5 L1086.2,474.6 L1087.7,474.6 L1089.1,474.6 L1090.6,474.7 L1092.1,474.7 L1093.6,474.7 L1095.0,474.7 L1096.5,474.8 L1098.0,474.8 L1099.5,474.8 L1100.9,474.8 L1102.4,474.8 L1103.9,474.9 L1105.4,474.9 L1106.8,474.9 L1108.3,474.9 L1109.8,474.9 L1111.3,474.9 L1112.7,474.9 L1114.2,474.9 L1115.7,474.9 L1117.2,474.9 L1118.6,474.9 L1120.1,475.0 L1121.6,475.0 L1123.1,475.0 L1124.5,475.0 L1126.0,475.0 L1127.5,475.0 L1129.0,475.0 L1130.4,475.0 L1131.9,475.0 L1133.4,475.0 L1134.9,475.0 L1136.3,475.0 L1137.8,475.0 L1139.3,475.0" fill="none" stroke="url(#gAI)" stroke-width="2.8" stroke-linecap="round" stroke-linejoin="round"/>
<path d="M932.7,343 V476.7 H1139.3" fill="none" stroke="#33302d" stroke-width="1.4"/>
<text transform="translate(917.6,410.8) rotate(-90)" x="-31.0" y="5.3" font-size="14.6" fill="#231f1c" stroke="#231f1c" stroke-width="0.32" textLength="62.0" lengthAdjust="spacingAndGlyphs">Probability</text>
<text x="991.6" y="495.3" font-size="15.2" font-weight="normal" fill="#231f1c" stroke="#231f1c" stroke-width="0.32" text-anchor="start" textLength="89.6" lengthAdjust="spacingAndGlyphs" >Output Logits</text>
<path d="M1029.6,356.2 H1054.8" stroke="#9a7560" stroke-width="2.4" stroke-linecap="round"/><text x="1062.5" y="361.2" font-size="14.2" font-weight="normal" fill="#231f1c" stroke="#231f1c" stroke-width="0.32" text-anchor="start" textLength="47.7" lengthAdjust="spacingAndGlyphs" >AI Label</text><path d="M1029.6,372.9 H1054.8" stroke="#9fb7ba" stroke-width="2.4" stroke-linecap="round"/><text x="1062.5" y="377.9" font-size="14.2" font-weight="normal" fill="#231f1c" stroke="#231f1c" stroke-width="0.32" text-anchor="start" textLength="78.8" lengthAdjust="spacingAndGlyphs" >Human Label</text><path d="M1029.6,389.4 H1054.8" stroke="#aea6a0" stroke-width="2.4" stroke-linecap="round"/><text x="1062.5" y="394.4" font-size="14.2" font-weight="normal" fill="#231f1c" stroke="#231f1c" stroke-width="0.32" text-anchor="start" textLength="83.4" lengthAdjust="spacingAndGlyphs" >Placebo Label</text>
</g>
</svg>
</body></html>
